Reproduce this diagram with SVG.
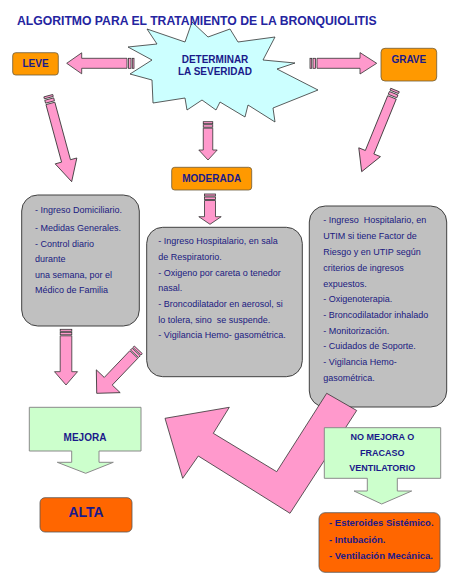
<svg xmlns="http://www.w3.org/2000/svg" width="458" height="584" viewBox="0 0 458 584">
<style>
.pk{fill:#ff99cc;stroke:#333;stroke-width:0.8;stroke-linejoin:miter}
.gray{fill:#c0c0c0;stroke:#404040;stroke-width:1}
.org{fill:#ff9900;stroke:#6b5a3a;stroke-width:0.8}
.red{fill:#ff6600;stroke:#555;stroke-width:0.8}
.grn{fill:#ccffcc;stroke:#8a8a8a;stroke-width:1}
.t{font-family:"Liberation Sans",Arial,sans-serif;font-size:9px;fill:#1a1a80}
.b{font-family:"Liberation Sans",Arial,sans-serif;font-weight:bold;fill:#1a1a8a}
</style>
<rect width="458" height="584" fill="#fff"/>

<g id="severidad">
<polygon points="147,29 185,42 192,22 208,37 230,29 238,42 275,37 263,60 295,63 277,69 318,90 273,108 275,122 248,105 245,117 220,102 216,110 202,100 187,110 185,98 153,103 152,80 130,74 152,60 128,47 157,44" fill="#ccffff" stroke="#333" stroke-width="0.8"/>
<text class="b" x="215" y="62.5" font-size="10" text-anchor="middle">DETERMINAR</text>
<text class="b" x="215" y="74.5" font-size="10" text-anchor="middle">LA SEVERIDAD</text>
</g>

<text id="title" class="b" x="17" y="25" font-size="12.2" style="fill:#2424a0">ALGORITMO PARA EL TRATAMIENTO DE LA BRONQUIOLITIS</text>

<g id="leve">
<rect class="org" x="12.7" y="52.7" width="45.6" height="22.3" rx="3"/>
<text class="b" x="35.5" y="67" font-size="10" text-anchor="middle">LEVE</text>
</g>
<g id="grave">
<rect class="org" x="381" y="48.3" width="55.7" height="32.7" rx="4"/>
<text class="b" x="408.8" y="63" font-size="10" text-anchor="middle">GRAVE</text>
</g>
<g id="moderada">
<rect class="org" x="171.7" y="167.3" width="80" height="22.7" rx="3"/>
<text class="b" x="211.7" y="182" font-size="10" text-anchor="middle">MODERADA</text>
</g>

<g id="tratamiento-leve">
<rect class="gray" x="21.7" y="195" width="117.6" height="131" rx="16"/>
<text class="t" x="35" y="213.3">- Ingreso Domiciliario.</text>
<text class="t" x="35" y="230.7">- Medidas Generales.</text>
<text class="t" x="35" y="246.7">- Control diario</text>
<text class="t" x="35" y="261.7">durante</text>
<text class="t" x="35" y="277.7">una semana, por el</text>
<text class="t" x="35" y="293.3">Médico de Familia</text>
</g>

<g id="tratamiento-moderada">
<rect class="gray" x="146.7" y="227.3" width="155.6" height="149.4" rx="16"/>
<text class="t" x="158.3" y="244.3">- Ingreso Hospitalario, en sala</text>
<text class="t" x="158.3" y="260">de Respiratorio.</text>
<text class="t" x="158.3" y="275.7">- Oxigeno por careta o tenedor</text>
<text class="t" x="158.3" y="290.7">nasal.</text>
<text class="t" x="158.3" y="307.3">- Broncodilatador en aerosol, si</text>
<text class="t" x="158.3" y="322.7" xml:space="preserve">lo tolera, sino  se suspende.</text>
<text class="t" x="158.3" y="338.3">- Vigilancia Hemo- gasométrica.</text>
</g>

<g id="tratamiento-grave">
<rect class="gray" x="309.3" y="206" width="137.4" height="201" rx="16"/>
<text class="t" x="323.3" y="223.3" xml:space="preserve">- Ingreso  Hospitalario, en</text>
<text class="t" x="323.3" y="239.3">UTIM si tiene Factor de</text>
<text class="t" x="323.3" y="255">Riesgo y en UTIP según</text>
<text class="t" x="323.3" y="270.7">criterios de ingresos</text>
<text class="t" x="323.3" y="286.7">expuestos.</text>
<text class="t" x="323.3" y="302">- Oxigenoterapia.</text>
<text class="t" x="323.3" y="318.3">- Broncodilatador inhalado</text>
<text class="t" x="323.3" y="334">- Monitorización.</text>
<text class="t" x="323.3" y="349.3">- Cuidados de Soporte.</text>
<text class="t" x="323.3" y="365">- Vigilancia Hemo-</text>
<text class="t" x="323.3" y="381">gasométrica.</text>
</g>

<g id="connectors">
<!-- severidad -> leve -->
<g transform="translate(134,63.3) rotate(90)">
<rect class="pk" x="-5" y="0" width="10" height="1.7"/>
<rect class="pk" x="-5" y="3" width="10" height="2.5"/>
<polygon class="pk" points="-5,7 5,7 5,52.3 10.5,52.3 0,67.3 -10.5,52.3 -5,52.3"/>
</g>
<!-- severidad -> grave -->
<g transform="translate(310,63.3) rotate(-90)">
<rect class="pk" x="-5" y="0" width="10" height="1.7"/>
<rect class="pk" x="-5" y="3" width="10" height="2.5"/>
<polygon class="pk" points="-5,7 5,7 5,50 10.7,50 0,66.7 -10.7,50 -5,50"/>
</g>
<!-- severidad -> moderada -->
<g transform="translate(208,121.7)">
<rect class="pk" x="-4.75" y="0" width="9.5" height="2"/>
<rect class="pk" x="-4.75" y="3" width="9.5" height="2.5"/>
<polygon class="pk" points="-4.75,6.5 4.75,6.5 4.75,28.3 9.2,28.3 0,38.3 -9.2,28.3 -4.75,28.3"/>
</g>
<!-- moderada -> tratamiento -->
<g transform="translate(210,194)">
<rect class="pk" x="-5.5" y="0" width="11" height="2"/>
<rect class="pk" x="-5.5" y="3" width="11" height="2.5"/>
<polygon class="pk" points="-5.5,6.5 5.5,6.5 5.5,22.7 11.2,22.7 0,30.3 -11.2,22.7 -5.5,22.7"/>
</g>
<!-- leve -> tratamiento -->
<g transform="translate(48.3,95.7) rotate(-15.2)">
<rect class="pk" x="-4.6" y="0" width="9.2" height="2"/>
<rect class="pk" x="-4.6" y="3.5" width="9.2" height="3"/>
<polygon class="pk" points="-4.6,8 4.6,8 4.6,67.6 11.2,67.6 0,89.1 -11.2,67.6 -4.6,67.6"/>
</g>
<!-- grave -> tratamiento -->
<g transform="translate(395,90) rotate(22.2)">
<rect class="pk" x="-4.6" y="0" width="9.2" height="2"/>
<rect class="pk" x="-4.6" y="3.5" width="9.2" height="3"/>
<polygon class="pk" points="-4.6,8 4.6,8 4.6,67.2 11.7,67.2 0,88.2 -11.7,67.2 -4.6,67.2"/>
</g>
<!-- tratamiento leve -> mejora -->
<g transform="translate(66,329.3)">
<rect class="pk" x="-5.8" y="0" width="11.6" height="2"/>
<rect class="pk" x="-5.8" y="3" width="11.6" height="2.5"/>
<polygon class="pk" points="-5.8,6.5 5.8,6.5 5.8,42.4 11.5,42.4 0,55.7 -11.5,42.4 -5.8,42.4"/>
</g>
<!-- tratamiento moderada -> mejora -->
<g transform="translate(138.3,349.8) rotate(43.7)">
<rect class="pk" x="-5.5" y="0" width="11" height="2"/>
<rect class="pk" x="-5.5" y="3" width="11" height="2.5"/>
<polygon class="pk" points="-5.5,6.5 5.5,6.5 5.5,43.5 16.5,43.5 0,60.2 -16.5,43.5 -5.5,43.5"/>
</g>
<!-- grave -> mejora (bent) -->
<polygon class="pk" points="165,418.3 229.3,407.3 213.3,433.3 276.7,471.7 326.7,393.3 356.7,410.5 290,513.3 198.3,456 182.7,478.3"/>
</g>

<g id="mejora">
<path class="grn" d="M29.3,407.3 H141 V451 H99 V462.3 H113.3 L85.7,473.3 L57.3,462.3 H71.7 V451 H29.3 Z"/>
<text class="b" x="85" y="441" font-size="10" text-anchor="middle">MEJORA</text>
</g>

<g id="no-mejora">
<path class="grn" d="M324.3,427.7 H440.7 V478.3 H397.3 V491 H411.7 L381.7,504 L354,491 H367.3 V478.3 H324.3 Z"/>
<text class="b" x="382.3" y="440" font-size="9" text-anchor="middle">NO MEJORA O</text>
<text class="b" x="382.3" y="456" font-size="9" text-anchor="middle">FRACASO</text>
<text class="b" x="382.3" y="471" font-size="9" text-anchor="middle">VENTILATORIO</text>
</g>

<g id="alta">
<rect class="red" x="40" y="497.7" width="92" height="34.3" rx="5"/>
<text class="b" x="86" y="517" font-size="14" text-anchor="middle">ALTA</text>
</g>

<g id="medidas-fracaso">
<rect class="red" x="319" y="512.7" width="121" height="59.6" rx="6"/>
<text class="b" x="329" y="526" font-size="9.5">- Esteroides Sistémico.</text>
<text class="b" x="329" y="542.7" font-size="9.5">- Intubación.</text>
<text class="b" x="329" y="559" font-size="9.5">- Ventilación Mecánica.</text>
</g>
</svg>
